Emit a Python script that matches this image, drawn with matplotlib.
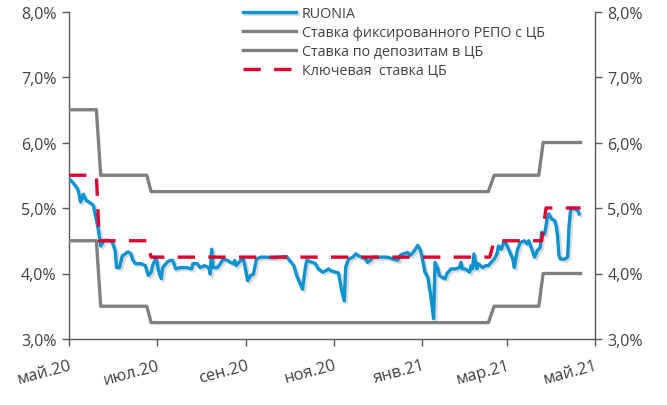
import matplotlib
matplotlib.use("Agg")
import matplotlib.pyplot as plt
import matplotlib.patheffects as pe
import pandas as pd

plt.rcParams['font.family'] = ['Open Sans', 'DejaVu Sans']

START = pd.Timestamp('2020-05-01')

# RUONIA: days since 2020-05-01, value in %
ruonia_days = [0, 3, 5, 6, 7, 8, 10, 12, 14, 17, 18, 19, 20, 21, 22, 24, 26, 29, 30, 32,
               33, 35, 37, 39, 41, 43, 44, 46, 48, 50, 53, 54, 55, 57, 58, 60, 61, 62, 64, 65,
               68, 70, 72, 74, 77, 82, 85, 86, 89, 91, 94, 97, 98, 99, 100, 103, 105, 107, 110, 112,
               114, 115, 116, 119, 121, 122, 124, 126, 128, 130, 133, 137, 142, 147, 151, 153, 156, 158, 162, 164,
               165, 169, 171, 173, 176, 178, 180, 182, 185, 187, 189, 191, 192, 194, 197, 199, 201, 203, 206, 207,
               209, 211, 216, 221, 225, 228, 230, 232, 235, 237, 239, 240, 242, 244, 245, 247, 249, 251, 253, 254,
               256, 257, 259, 261, 262, 265, 268, 271, 272, 273, 275, 278, 279, 280, 281, 283, 284, 287, 289, 291,
               293, 295, 297, 298, 300, 302, 304, 305, 308, 309, 311, 313, 316, 318, 319, 322, 323, 325, 327, 328,
               330, 332, 333, 335, 337, 338, 339, 340, 341, 344, 346, 347, 348, 350, 353, 354]
ruonia_vals = [5.45, 5.38, 5.32, 5.29, 5.21, 5.09, 5.21, 5.11, 5.09, 5.04, 4.91, 4.83, 4.71, 4.58, 4.42, 4.50, 4.51, 4.50, 4.48, 4.35,
               4.09, 4.09, 4.27, 4.30, 4.33, 4.30, 4.22, 4.15, 4.15, 4.15, 4.12, 4.04, 3.97, 4.02, 4.12, 4.22, 4.20, 4.05, 3.92, 4.09,
               4.17, 4.20, 4.20, 4.07, 4.09, 4.09, 4.07, 4.15, 4.15, 4.09, 4.12, 4.09, 3.99, 4.37, 4.09, 4.09, 4.15, 4.22, 4.20, 4.17,
               4.15, 4.20, 4.12, 4.20, 4.22, 4.12, 3.89, 3.97, 3.99, 4.22, 4.25, 4.25, 4.24, 4.25, 4.26, 4.20, 4.12, 3.97, 3.76, 4.09,
               4.20, 4.17, 4.15, 4.07, 4.02, 4.04, 4.07, 4.04, 4.02, 4.01, 3.76, 3.58, 4.10, 4.22, 4.25, 4.30, 4.27, 4.25, 4.22, 4.17,
               4.20, 4.25, 4.25, 4.25, 4.22, 4.20, 4.28, 4.30, 4.32, 4.28, 4.33, 4.36, 4.43, 4.35, 4.25, 4.02, 3.94, 3.66, 3.31, 4.17,
               4.07, 3.97, 3.94, 3.92, 3.99, 4.07, 4.07, 4.09, 4.17, 4.07, 4.07, 4.02, 4.12, 4.07, 4.30, 4.07, 4.15, 4.09, 4.12, 4.12,
               4.17, 4.22, 4.30, 4.42, 4.37, 4.50, 4.42, 4.37, 4.22, 4.09, 4.35, 4.47, 4.50, 4.45, 4.50, 4.32, 4.25, 4.35, 4.40, 4.63,
               4.60, 4.86, 4.91, 4.83, 4.81, 4.73, 4.58, 4.27, 4.22, 4.22, 4.25, 4.73, 4.96, 5.00, 4.96, 4.91]

# Policy rates (step series): days since 2020-05-01, value in %
repo_days = [0, 19, 22, 54, 57, 291, 295, 326, 329, 355]
repo_vals = [6.50, 6.50, 5.50, 5.50, 5.25, 5.25, 5.50, 5.50, 6.00, 6.00]
depo_days = [0, 19, 22, 54, 57, 291, 295, 326, 329, 355]
depo_vals = [4.50, 4.50, 3.50, 3.50, 3.25, 3.25, 3.50, 3.50, 4.00, 4.00]
key_days = [0, 19, 21, 54, 57, 292, 295, 328, 331, 355]
key_vals = [5.50, 5.50, 4.50, 4.50, 4.25, 4.25, 4.50, 4.50, 5.00, 5.00]

series_names = ['RUONIA', 'Ставка фиксированного РЕПО с ЦБ',
                'Ставка по депозитам в ЦБ', 'Ключевая  ставка ЦБ']

xtick_dates = ['2020-05-01', '2020-07-01', '2020-09-01', '2020-11-01',
               '2021-01-01', '2021-03-01', '2021-05-01']
xtick_labels = ['май.20', 'июл.20', 'сен.20', 'ноя.20', 'янв.21', 'мар.21', 'май.21']
ytick_vals = [3.0, 4.0, 5.0, 6.0, 7.0, 8.0]
ytick_labels = ['3,0%', '4,0%', '5,0%', '6,0%', '7,0%', '8,0%']


def to_dates(days):
    return START + pd.to_timedelta(days, unit='D')


BLUE = '#0A93CF'
GREY = '#808080'
RED = '#E0002F'
AXC = '#595959'
TXT = '#404040'

fig = plt.figure(figsize=(6.67, 4.06), dpi=100)
ax = fig.add_axes([69 / 667, 1 - 340 / 406, (595 - 69) / 667, (340 - 12.5) / 406])

lw = 2.4
ax.plot(to_dates(ruonia_days), ruonia_vals, color=BLUE, lw=lw, label=series_names[0],
        solid_joinstyle='round', zorder=3,
        path_effects=[pe.SimpleLineShadow(offset=(1.5, -1.5), shadow_color='#999999', alpha=0.35),
                      pe.Normal()])
ax.plot(to_dates(repo_days), repo_vals, color=GREY, lw=lw, label=series_names[1], zorder=4)
ax.plot(to_dates(depo_days), depo_vals, color=GREY, lw=lw, label=series_names[2], zorder=4)
ax.plot(to_dates(key_days), key_vals, color=RED, lw=lw, dashes=(5.2, 4.0),
        label=series_names[3], zorder=5)

ax.set_xlim(pd.Timestamp(xtick_dates[0]), pd.Timestamp(xtick_dates[-1]))
ax.set_ylim(3.0, 8.0)

ax.set_xticks(pd.to_datetime(xtick_dates))
ax.set_xticklabels(xtick_labels, rotation=15, ha='right', rotation_mode='anchor',
                   fontsize=12, color=TXT)
ax.set_yticks(ytick_vals)
ax.set_yticklabels(ytick_labels, fontsize=11.5, color=TXT)

for s in ['left', 'right', 'bottom']:
    ax.spines[s].set_color(AXC)
    ax.spines[s].set_linewidth(1.0)
ax.spines['top'].set_visible(False)
ax.tick_params(axis='both', direction='out', length=5, width=1.0, color=AXC, pad=4)
ax.tick_params(axis='x', pad=8)

ax2 = ax.twinx()
ax2.set_ylim(3.0, 8.0)
ax2.set_yticks(ytick_vals)
ax2.set_yticklabels(ytick_labels, fontsize=11.5, color=TXT)
for s in ['left', 'right', 'bottom', 'top']:
    ax2.spines[s].set_visible(False)
ax2.tick_params(axis='y', direction='out', length=5, width=1.0, color=AXC, pad=4)

leg = ax.legend(loc='upper left', bbox_to_anchor=((237 - 69) / 526, 1.035), frameon=False,
                fontsize=10.3, handlelength=3.7, handletextpad=0.45, labelspacing=0.28,
                borderaxespad=0)
for t in leg.get_texts():
    t.set_color(TXT)

fig.savefig('out.png', dpi=100)
